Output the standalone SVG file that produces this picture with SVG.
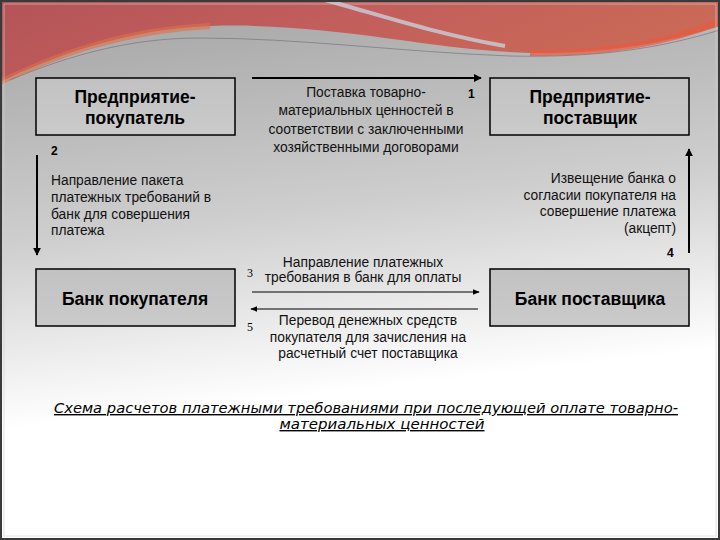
<svg xmlns="http://www.w3.org/2000/svg" width="720" height="540" viewBox="0 0 720 540">
<defs>
<linearGradient id="bg" x1="0" y1="0" x2="0.15" y2="1">
<stop offset="0" stop-color="#a2a2a2"/>
<stop offset="0.45" stop-color="#cfcfcf"/>
<stop offset="0.78" stop-color="#ffffff"/>
<stop offset="1" stop-color="#ffffff"/>
</linearGradient>
<linearGradient id="red" x1="0" y1="0" x2="1" y2="0.3">
<stop offset="0" stop-color="#b45458"/>
<stop offset="0.5" stop-color="#c25e5c"/>
<stop offset="1" stop-color="#ca6a56"/>
</linearGradient>
<linearGradient id="box" x1="0" y1="0" x2="0" y2="1">
<stop offset="0" stop-color="#c2c2c2"/>
<stop offset="1" stop-color="#cacaca"/>
</linearGradient>
<marker id="ah" viewBox="0 0 10 10" refX="9" refY="5" markerWidth="4" markerHeight="4" orient="auto" markerUnits="strokeWidth">
<path d="M0,0 L10,5 L0,10 Z" fill="#000"/>
</marker>
<marker id="ahs" viewBox="0 0 10 10" refX="9" refY="5" markerWidth="6" markerHeight="6" orient="auto" markerUnits="strokeWidth">
<path d="M0,1 L10,5 L0,9 Z" fill="#000"/>
</marker>
</defs>
<style>
.node rect{fill:url(#box);stroke:#000;stroke-width:1.5}
.nt{font-family:"Liberation Sans",Arial,sans-serif;font-weight:bold;font-size:17.5px;fill:#000;text-anchor:middle}
.lbl{font-family:"Liberation Sans",Arial,sans-serif;font-size:13.8px;fill:#111}
.num{font-family:"Liberation Sans",Arial,sans-serif;font-weight:bold;font-size:12px;fill:#000}
.nums{font-family:"Liberation Serif","Times New Roman",serif;font-size:12px;fill:#000}
.conn line{stroke:#000;fill:none}
.title{font-family:"DejaVu Sans",sans-serif;font-style:oblique;font-size:14px;fill:#000;text-decoration:underline;text-anchor:middle}
</style>
<rect x="0" y="0" width="720" height="540" fill="url(#bg)"/>
<path d="M0,0 H720 V26 C670,42 610,54 530,53 C430,50 330,22 210,26 C120,30 50,58 0,82 Z" fill="url(#red)"/>
<path d="M0,82 C50,58 120,30 210,26" fill="none" stroke="#e07048" stroke-width="6" opacity="0.6"/>
<path d="M530,53 C610,54 670,42 720,22" fill="none" stroke="#e85a40" stroke-width="6" opacity="0.7"/>
<path d="M10,80 C70,55 130,38 200,38 C300,38 400,52 510,56 C600,58 660,48 720,30" fill="none" stroke="#7a7480" stroke-width="1" opacity="0.7"/>
<path d="M325,0 C380,15 440,35 505,46" fill="none" stroke="#c8d0d8" stroke-width="4" opacity="0.8"/>
<rect x="1" y="1" width="718" height="538" fill="none" stroke="#3a3a3a" stroke-width="2"/>
<rect x="4" y="4" width="712" height="532" fill="none" stroke="#cfcfcf" stroke-width="0.6"/>

<g id="buyer" class="node">
<rect x="36" y="78" width="199" height="57"/>
<text class="nt" x="135" y="103">Предприятие-</text>
<text class="nt" x="135" y="124">покупатель</text>
</g>
<g id="supplier" class="node">
<rect x="490" y="78" width="199" height="57"/>
<text class="nt" x="590" y="103">Предприятие-</text>
<text class="nt" x="590" y="124">поставщик</text>
</g>
<g id="buyer-bank" class="node">
<rect x="36" y="269" width="199" height="57"/>
<text class="nt" x="135" y="305">Банк покупателя</text>
</g>
<g id="supplier-bank" class="node">
<rect x="490" y="269" width="199" height="57"/>
<text class="nt" x="590" y="305">Банк поставщика</text>
</g>

<g id="connectors" class="conn">
<line x1="252" y1="78" x2="481" y2="78" stroke-width="2" marker-end="url(#ah)"/>
<line x1="37" y1="155" x2="37" y2="255" stroke-width="2" marker-end="url(#ah)"/>
<line x1="689" y1="253" x2="689" y2="149" stroke-width="2" marker-end="url(#ah)"/>
<line x1="252" y1="292" x2="479" y2="292" stroke-width="1.2" marker-end="url(#ahs)"/>
<line x1="478" y1="309" x2="251" y2="309" stroke-width="1.2" marker-end="url(#ahs)"/>
<text class="num" x="468" y="98">1</text>
<text class="num" x="51" y="155">2</text>
<text class="nums" x="247" y="277">3</text>
<text class="num" x="667" y="257">4</text>
<text class="nums" x="247" y="331">5</text>
<text class="lbl" text-anchor="middle" x="366" y="97">Поставка товарно-</text>
<text class="lbl" text-anchor="middle" x="366" y="115">материальных ценностей в</text>
<text class="lbl" text-anchor="middle" x="366" y="134">соответствии с заключенными</text>
<text class="lbl" text-anchor="middle" x="366" y="152">хозяйственными договорами</text>
<text class="lbl" x="51" y="185">Направление пакета</text>
<text class="lbl" x="51" y="202">платежных требований в</text>
<text class="lbl" x="51" y="219">банк для совершения</text>
<text class="lbl" x="51" y="235">платежа</text>
<text class="lbl" text-anchor="end" x="676" y="183">Извещение банка о</text>
<text class="lbl" text-anchor="end" x="676" y="200">согласии покупателя на</text>
<text class="lbl" text-anchor="end" x="676" y="216">совершение платежа</text>
<text class="lbl" text-anchor="end" x="676" y="233">(акцепт)</text>
<text class="lbl" text-anchor="middle" x="363" y="267">Направление платежных</text>
<text class="lbl" text-anchor="middle" x="363" y="282">требования в банк для оплаты</text>
<text class="lbl" text-anchor="middle" x="368" y="325">Перевод денежных средств</text>
<text class="lbl" text-anchor="middle" x="368" y="342">покупателя для зачисления на</text>
<text class="lbl" text-anchor="middle" x="368" y="358">расчетный счет поставщика</text>
</g>

<g id="title">
<text class="title" x="366" y="413" textLength="624" lengthAdjust="spacingAndGlyphs">Схема расчетов платежными требованиями при последующей оплате товарно-</text>
<text class="title" x="382" y="429" textLength="205" lengthAdjust="spacingAndGlyphs">материальных ценностей</text>
</g>
</svg>
